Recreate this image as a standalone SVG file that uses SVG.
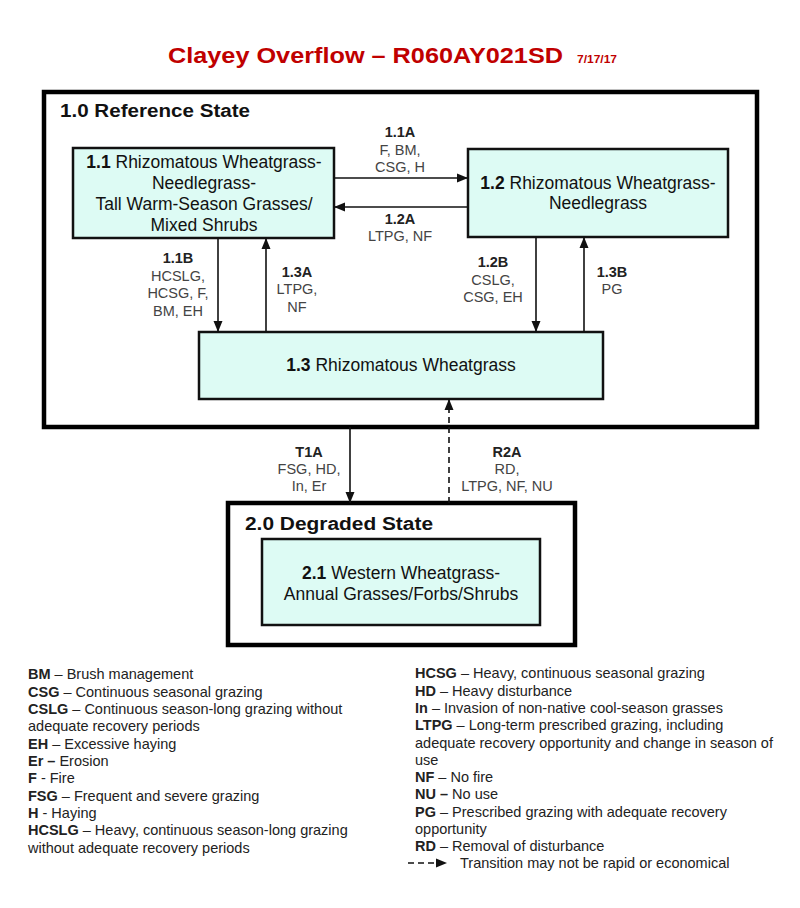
<svg xmlns="http://www.w3.org/2000/svg" width="800" height="908" viewBox="0 0 800 908">
<style>
text{font-family:"Liberation Sans",Arial,sans-serif;}
.title{font-size:22px;font-weight:bold;fill:#C00000;}
.date{font-size:10px;font-weight:bold;fill:#C00000;}
.state{fill:#fff;stroke:#000;stroke-width:4.5;}
.stitle{font-size:18px;font-weight:bold;fill:#111;}
.node{fill:#DDFBF4;stroke:#111;stroke-width:2.5;}
.ntext{font-size:17.5px;fill:#111;text-anchor:middle;}
.b{font-weight:bold;}
.lbl{font-size:14.5px;fill:#444;text-anchor:middle;}
.lbl .b{fill:#222;}
.conn{stroke:#111;stroke-width:1.6;fill:none;}
.dash{stroke-dasharray:6,4;}
.leg{font-size:14.5px;fill:#222;}
</style>
<defs>
<marker id="ah" markerUnits="userSpaceOnUse" markerWidth="11" markerHeight="11" viewBox="0 0 11 11" refX="11" refY="5.5" orient="auto">
<path d="M0,1 L11,5.5 L0,10 Z" fill="#111"/>
</marker>
</defs>
<text class="title" x="168" y="63" textLength="395" lengthAdjust="spacingAndGlyphs">Clayey Overflow – R060AY021SD</text>
<text class="date" x="577" y="63" textLength="40" lengthAdjust="spacingAndGlyphs">7/17/17</text>

<g id="state1">
<rect class="state" x="44" y="92" width="713" height="335"/>
<text class="stitle" x="60" y="117" textLength="190" lengthAdjust="spacingAndGlyphs">1.0 Reference State</text>
</g>
<g id="state2">
<rect class="state" x="228" y="503" width="347" height="142"/>
<text class="stitle" x="245" y="530" textLength="188" lengthAdjust="spacingAndGlyphs">2.0 Degraded State</text>
</g>

<g id="n11">
<rect class="node" x="73" y="148" width="261" height="90"/>
<text class="ntext" x="204" y="168"><tspan class="b">1.1</tspan> Rhizomatous Wheatgrass-</text>
<text class="ntext" x="204" y="189">Needlegrass-</text>
<text class="ntext" x="204" y="210">Tall Warm-Season Grasses/</text>
<text class="ntext" x="204" y="231">Mixed Shrubs</text>
</g>
<g id="n12">
<rect class="node" x="468" y="149" width="260" height="88"/>
<text class="ntext" x="598" y="189"><tspan class="b">1.2</tspan> Rhizomatous Wheatgrass-</text>
<text class="ntext" x="598" y="209">Needlegrass</text>
</g>
<g id="n13">
<rect class="node" x="199" y="332" width="404" height="67"/>
<text class="ntext" x="401" y="371"><tspan class="b">1.3</tspan> Rhizomatous Wheatgrass</text>
</g>
<g id="n21">
<rect class="node" x="262" y="539" width="278" height="86"/>
<text class="ntext" x="401" y="579"><tspan class="b">2.1</tspan> Western Wheatgrass-</text>
<text class="ntext" x="401" y="600">Annual Grasses/Forbs/Shrubs</text>
</g>

<g id="connectors">
<path class="conn" d="M334,178 L468,178" marker-end="url(#ah)"/>
<path class="conn" d="M468,207 L334,207" marker-end="url(#ah)"/>
<path class="conn" d="M218,238 L218,332" marker-end="url(#ah)"/>
<path class="conn" d="M266,332 L266,238" marker-end="url(#ah)"/>
<path class="conn" d="M536,237 L536,332" marker-end="url(#ah)"/>
<path class="conn" d="M584,332 L584,237" marker-end="url(#ah)"/>
<path class="conn" d="M350,427 L350,503" marker-end="url(#ah)"/>
<path class="conn dash" d="M449,503 L449,399" marker-end="url(#ah)"/>
</g>

<g id="labels">
<text class="lbl" x="400" y="137"><tspan class="b">1.1A</tspan></text>
<text class="lbl" x="400" y="155">F, BM,</text>
<text class="lbl" x="400" y="172">CSG, H</text>
<text class="lbl" x="400" y="224"><tspan class="b">1.2A</tspan></text>
<text class="lbl" x="400" y="241">LTPG, NF</text>

<text class="lbl" x="178" y="263"><tspan class="b">1.1B</tspan></text>
<text class="lbl" x="178" y="281">HCSLG,</text>
<text class="lbl" x="178" y="298">HCSG, F,</text>
<text class="lbl" x="178" y="316">BM, EH</text>

<text class="lbl" x="297" y="277"><tspan class="b">1.3A</tspan></text>
<text class="lbl" x="297" y="294">LTPG,</text>
<text class="lbl" x="297" y="312">NF</text>

<text class="lbl" x="493" y="267"><tspan class="b">1.2B</tspan></text>
<text class="lbl" x="493" y="285">CSLG,</text>
<text class="lbl" x="493" y="302">CSG, EH</text>

<text class="lbl" x="612" y="277"><tspan class="b">1.3B</tspan></text>
<text class="lbl" x="612" y="294">PG</text>

<text class="lbl" x="309" y="457"><tspan class="b">T1A</tspan></text>
<text class="lbl" x="309" y="474">FSG, HD,</text>
<text class="lbl" x="309" y="491">In, Er</text>

<text class="lbl" x="507" y="457"><tspan class="b">R2A</tspan></text>
<text class="lbl" x="507" y="474">RD,</text>
<text class="lbl" x="507" y="491">LTPG, NF, NU</text>
</g>

<g id="legend">
<text class="leg" x="28" y="679"><tspan class="b">BM</tspan> – Brush management</text>
<text class="leg" x="28" y="697"><tspan class="b">CSG</tspan> – Continuous seasonal grazing</text>
<text class="leg" x="28" y="714"><tspan class="b">CSLG</tspan> – Continuous season-long grazing without</text>
<text class="leg" x="28" y="731">adequate recovery periods</text>
<text class="leg" x="28" y="749"><tspan class="b">EH</tspan> – Excessive haying</text>
<text class="leg" x="28" y="766"><tspan class="b">Er –</tspan> Erosion</text>
<text class="leg" x="28" y="783"><tspan class="b">F</tspan> - Fire</text>
<text class="leg" x="28" y="801"><tspan class="b">FSG</tspan> – Frequent and severe grazing</text>
<text class="leg" x="28" y="818"><tspan class="b">H</tspan> - Haying</text>
<text class="leg" x="28" y="835"><tspan class="b">HCSLG</tspan> – Heavy, continuous season-long grazing</text>
<text class="leg" x="28" y="853">without adequate recovery periods</text>

<text class="leg" x="415" y="678"><tspan class="b">HCSG</tspan> – Heavy, continuous seasonal grazing</text>
<text class="leg" x="415" y="696"><tspan class="b">HD</tspan> – Heavy disturbance</text>
<text class="leg" x="415" y="713"><tspan class="b">In</tspan> – Invasion of non-native cool-season grasses</text>
<text class="leg" x="415" y="730"><tspan class="b">LTPG</tspan> – Long-term prescribed grazing, including</text>
<text class="leg" x="415" y="748">adequate recovery opportunity and change in season of</text>
<text class="leg" x="415" y="765">use</text>
<text class="leg" x="415" y="782"><tspan class="b">NF</tspan> – No fire</text>
<text class="leg" x="415" y="799"><tspan class="b">NU –</tspan> No use</text>
<text class="leg" x="415" y="817"><tspan class="b">PG</tspan> – Prescribed grazing with adequate recovery</text>
<text class="leg" x="415" y="834">opportunity</text>
<text class="leg" x="415" y="851"><tspan class="b">RD</tspan> – Removal of disturbance</text>
<path class="conn dash" d="M408,863 L447,863" marker-end="url(#ah)" stroke-width="2"/>
<text class="leg" x="460" y="868">Transition may not be rapid or economical</text>
</g>
</svg>
